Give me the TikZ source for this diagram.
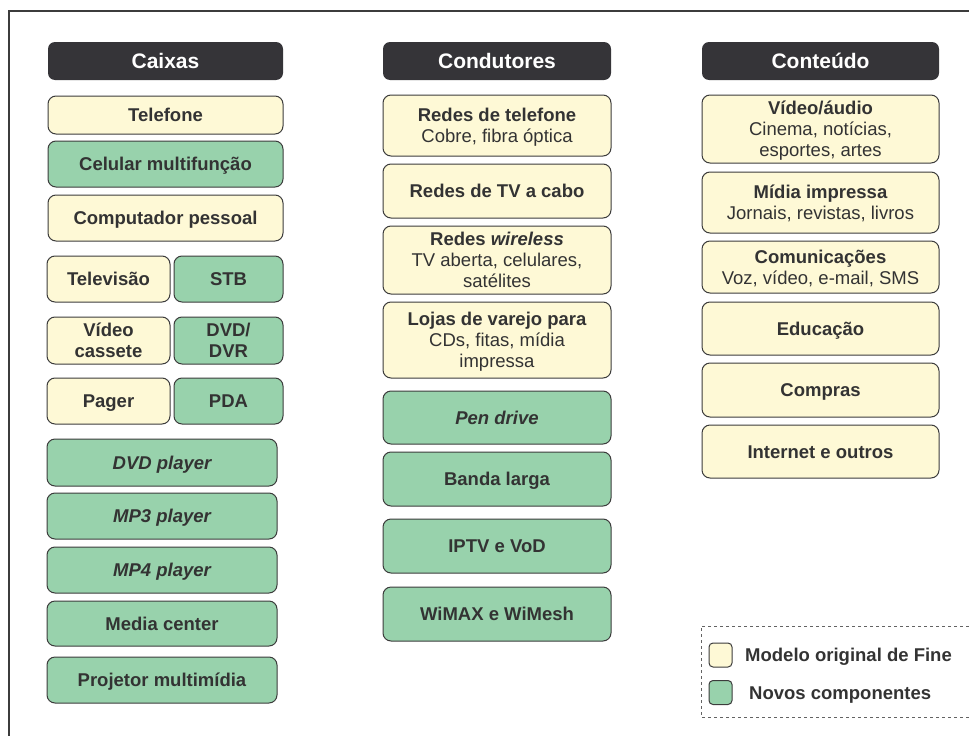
\documentclass[tikz,border=0pt]{standalone}
\usepackage{fontspec}
\setmainfont{Liberation Sans}
\definecolor{cream}{HTML}{FEF9D6}
\definecolor{mint}{HTML}{98D2AC}
\definecolor{edge}{HTML}{3C3C3C}
\definecolor{ink}{HTML}{333333}
\definecolor{headfill}{HTML}{353438}
\newcommand{\bodysize}{\fontsize{18.5}{21}\selectfont}
\newcommand{\headsize}{\fontsize{21}{24}\selectfont}
% strut that centres capitals on the line, independent of descenders
\newcommand{\sx}{\vrule height 17.1pt depth 3.9pt width 0pt}
\tikzset{
  card/.style={draw=edge, line width=1pt, rounded corners=8pt, inner sep=0pt,
    align=center, text=ink, font=\bodysize},
  orig/.style={card, fill=cream},
  novo/.style={card, fill=mint},
  head/.style={fill=headfill, rounded corners=7pt, inner sep=0pt, text=white,
    font=\headsize\bfseries, minimum height=38pt},
  swatch/.style={draw=edge, line width=1pt, rounded corners=4pt, inner sep=0pt,
    minimum width=23pt, minimum height=24pt},
  legtext/.style={anchor=west, inner sep=0pt, text=ink, font=\bodysize\bfseries}
}
\begin{document}
\begin{tikzpicture}[x=1pt,y=-1pt]
\useasboundingbox (0,0) rectangle (969,736);
% outer frame (left and top sides)
\draw[line width=2pt, color=edge] (9,740) -- (9,11) -- (975,11);

% ---------- Caixas ----------
\node[head, minimum width=235pt] (hcx) at (165.5,61) {Caixas};
\node[orig, minimum width=235pt, minimum height=38pt] (tel) at (165.5,115) {\sx\bfseries Telefone};
\node[novo, minimum width=235pt, minimum height=46pt] (cel) at (165.5,164) {\sx\bfseries Celular multifunção};
\node[orig, minimum width=235pt, minimum height=46pt] (pc) at (165.5,218) {\sx\bfseries Computador pessoal};
\node[orig, minimum width=123pt, minimum height=46pt] (tv) at (108.5,279) {\sx\bfseries Televisão};
\node[novo, minimum width=109pt, minimum height=46pt] (stb) at (228.5,279) {\sx\bfseries STB};
\node[orig, minimum width=123pt, minimum height=47pt] (vcr) at (108.5,340.5) {\sx\bfseries Vídeo\\\sx\bfseries cassete};
\node[novo, minimum width=109pt, minimum height=47pt] (dvr) at (228.5,340.5) {\sx\bfseries DVD/\\\sx\bfseries DVR};
\node[orig, minimum width=123pt, minimum height=46pt] (pgr) at (108.5,401) {\sx\bfseries Pager};
\node[novo, minimum width=109pt, minimum height=46pt] (pda) at (228.5,401) {\sx\bfseries PDA};
\node[novo, minimum width=230pt, minimum height=47pt] (dvd) at (162,462.5) {\sx\bfseries\itshape DVD player};
\node[novo, minimum width=230pt, minimum height=46pt] (mp3) at (162,516) {\sx\bfseries\itshape MP3 player};
\node[novo, minimum width=230pt, minimum height=46pt] (mp4) at (162,570) {\sx\bfseries\itshape MP4 player};
\node[novo, minimum width=230pt, minimum height=45pt] (mc) at (162,623.5) {\sx\bfseries Media center};
\node[novo, minimum width=230pt, minimum height=46pt] (proj) at (162,680) {\sx\bfseries Projetor multimídia};

% ---------- Condutores ----------
\node[head, minimum width=228pt] (hcd) at (497,61) {Condutores};
\node[orig, minimum width=228pt, minimum height=61pt] (rtel) at (497,125.5) {\sx\bfseries Redes de telefone\\\sx Cobre, fibra óptica};
\node[orig, minimum width=228pt, minimum height=54pt] (rcab) at (497,191) {\sx\bfseries Redes de TV a cabo};
\node[orig, minimum width=228pt, minimum height=68pt] (rwl) at (497,260) {\sx\bfseries Redes \textit{wireless}\\\sx TV aberta, celulares,\\\sx satélites};
\node[orig, minimum width=228pt, minimum height=76pt] (loja) at (497,340) {\sx\bfseries Lojas de varejo para\\\sx CDs, fitas, mídia\\\sx impressa};
\node[novo, minimum width=228pt, minimum height=53pt] (pen) at (497,417.5) {\sx\bfseries\itshape Pen drive};
\node[novo, minimum width=228pt, minimum height=54pt] (bl) at (497,479) {\sx\bfseries Banda larga};
\node[novo, minimum width=228pt, minimum height=54pt] (iptv) at (497,546) {\sx\bfseries IPTV e VoD};
\node[novo, minimum width=228pt, minimum height=54pt] (wimax) at (497,614) {\sx\bfseries WiMAX e WiMesh};

% ---------- Conteúdo ----------
\node[head, minimum width=237pt] (hct) at (820.5,61) {Conteúdo};
\node[orig, minimum width=237pt, minimum height=68pt] (va) at (820.5,129) {\sx\bfseries Vídeo/áudio\\\sx Cinema, notícias,\\\sx esportes, artes};
\node[orig, minimum width=237pt, minimum height=61pt] (mi) at (820.5,202.5) {\sx\bfseries Mídia impressa\\\sx Jornais, revistas, livros};
\node[orig, minimum width=237pt, minimum height=52pt] (com) at (820.5,267) {\sx\bfseries Comunicações\\\sx Voz, vídeo, e-mail, SMS};
\node[orig, minimum width=237pt, minimum height=53pt] (edu) at (820.5,328.5) {\sx\bfseries Educação};
\node[orig, minimum width=237pt, minimum height=54pt] (cmp) at (820.5,390) {\sx\bfseries Compras};
\node[orig, minimum width=237pt, minimum height=53pt] (net) at (820.5,451.5) {\sx\bfseries Internet e outros};

% ---------- legend ----------
\draw[dashed, line width=0.8pt, color=edge!80] (975,626) -- (701,626) -- (701,717) -- (975,717);
\node[swatch, fill=cream] (swo) at (720.5,655) {};
\node[swatch, fill=mint] (swn) at (720.5,692.5) {};
\node[legtext] (lo) at (745,655) {\sx Modelo original de Fine};
\node[legtext] (ln) at (749,692.5) {\sx Novos componentes};
\end{tikzpicture}
\end{document}
